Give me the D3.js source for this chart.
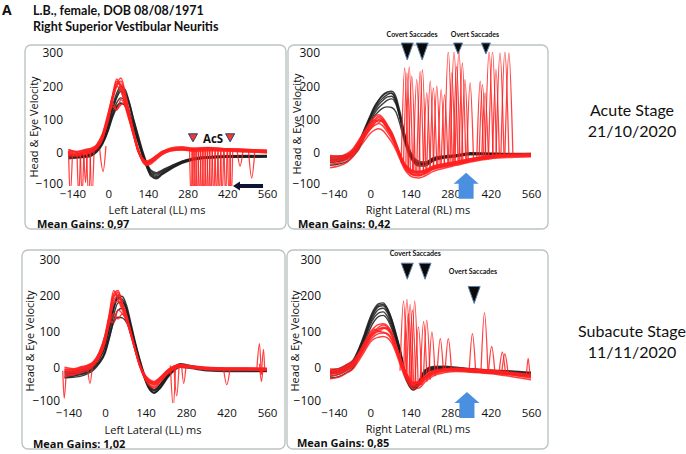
<!DOCTYPE html>
<html><head><meta charset="utf-8">
<script src="https://cdn.jsdelivr.net/npm/d3@7/dist/d3.min.js"></script>
<style>
body{margin:0;background:#fff}
svg{display:block}
text{fill:#111}
</style>
</head><body>
<svg id="chart" width="686" height="454"></svg>
<script>
// ---------- data ----------
const T = [-140,-110,-80,-60,-40,-20,0,15,30,45,60,75,90,105,120,135,150,170,190,220,260,300,350,420,490,560];
const xTicks = [-140,0,140,280,420,560];
const yTicks = [300,200,100,0,-100];

// Acute – Left Lateral
const tlHead = [
 [-10,-12,-10,-5,8,35,80,125,165,185,175,140,90,45,0,-35,-60,-68,-58,-45,-28,-18,-14,-11,-10,-10],
 [-15,-14,-12,-8,4,28,70,115,150,165,155,122,78,35,-5,-40,-66,-75,-62,-46,-30,-20,-15,-12,-12,-12],
 [-6,-8,-6,0,14,42,90,140,180,200,190,150,100,55,10,-28,-52,-60,-52,-40,-25,-16,-12,-9,-8,-8],
 [-12,-10,-8,-4,10,30,72,110,140,150,140,112,72,32,-8,-42,-70,-78,-66,-50,-32,-22,-16,-13,-12,-11],
 [-8,-10,-8,-2,12,38,85,132,170,192,182,148,98,50,5,-30,-55,-64,-55,-42,-26,-17,-12,-10,-9,-9],
 [-18,-16,-14,-10,2,25,65,105,135,148,145,118,80,40,0,-36,-62,-72,-64,-48,-30,-20,-16,-14,-14,-13]
];
const tlEye = [
 [0,-5,5,8,20,50,110,165,210,200,160,110,60,10,-20,-32,-28,-15,-2,8,10,8,10,8,5,2],
 [10,0,-5,5,15,42,100,155,200,215,170,115,62,12,-18,-28,-25,-12,0,10,12,10,12,10,8,5],
 [-5,-10,0,5,25,58,120,170,222,190,140,95,50,5,-25,-38,-34,-20,-6,5,8,5,6,5,2,0],
 [5,2,8,12,18,45,95,150,130,145,150,105,55,8,-15,-25,-20,-8,4,12,15,12,14,12,10,8],
 [-10,-8,-4,0,12,40,105,160,205,225,180,120,65,15,-22,-35,-30,-18,-5,6,10,6,8,6,4,0],
 [2,-2,6,10,22,55,112,168,200,185,150,100,52,6,-20,-30,-24,-10,2,14,18,14,16,12,10,6],
 [-3,-6,2,6,18,48,105,140,128,160,140,98,50,4,-18,-28,-22,-10,3,10,14,10,12,10,6,4],
 [8,4,10,14,24,52,115,172,215,205,165,112,58,8,-22,-34,-28,-14,0,10,14,12,14,10,8,4]
];
// [start ms, start value, peak ms, peak value, end ms, end value]
const tlSpikes = [
 [-140,5,-134,-130,-126,0],[-110,0,-104,-130,-98,-5],[-98,-5,-92,-130,-86,0],
 [-86,0,-80,-90,-74,5],[-76,0,-69,-130,-62,0],[-64,0,-57,-130,-50,5],[-30,10,-18,-56,-8,20],
 [287,5,292,-140,297,5],[295,5,300,-140,305,5],[301,5,306,-140,311,5],[309,5,314,-140,319,5],
 [317,5,322,-140,327,5],[325,5,330,-140,335,5],[333,5,338,-140,343,5],[341,5,346,-140,351,5],
 [349,5,354,-140,359,5],[357,5,362,-140,367,5],[367,5,372,-140,377,5],[377,5,382,-140,387,5],
 [387,5,392,-140,397,5],[397,5,402,-140,407,5],[409,5,414,-140,419,5],[421,5,426,-140,431,5],
 [429,5,434,-140,439,5],[455,5,465,-40,475,5],[495,5,506,-76,517,5]
];

// Acute – Right Lateral
const trHead = [
 [-20,-18,-12,2,24,65,105,132,152,165,175,180,160,110,52,8,-18,-30,-31,-18,-12,-9,-2,-3,-4,-4],
 [-30,-26,-18,-4,16,55,92,118,136,148,158,162,145,98,42,0,-24,-36,-36,-22,-14,-10,-4,-5,-6,-6],
 [-10,-10,-6,8,30,72,112,140,160,175,183,185,168,118,58,14,-12,-26,-28,-15,-9,-6,0,-1,-2,-2],
 [-38,-34,-26,-10,10,48,85,110,125,135,138,136,122,82,32,-6,-28,-40,-40,-25,-16,-12,-6,-6,-8,-8],
 [-16,-14,-10,5,28,68,108,136,158,172,180,178,155,105,46,4,-20,-32,-33,-20,-12,-8,-2,-2,-3,-3],
 [-24,-22,-15,0,20,60,100,125,145,158,168,170,150,102,45,2,-22,-34,-34,-20,-13,-10,-3,-4,-5,-5]
];
const trEye = [
 [-20,-18,-10,5,30,55,80,95,105,95,75,55,25,-10,-38,-52,-60,-62,-58,-46,-38,-32,-22,-12,-8,-6],
 [-35,-30,-20,-5,20,45,70,82,88,80,62,42,15,-18,-45,-60,-68,-70,-64,-50,-42,-35,-25,-15,-10,-8],
 [-8,-10,-2,12,38,65,92,108,114,104,84,62,30,-5,-32,-46,-54,-56,-52,-40,-32,-26,-18,-10,-6,-4],
 [-45,-40,-28,-12,12,36,58,68,72,66,50,32,8,-22,-50,-66,-74,-76,-70,-56,-46,-38,-28,-18,-14,-12],
 [-15,-14,-6,8,34,60,86,100,110,98,78,58,28,-8,-36,-50,-58,-60,-56,-44,-36,-30,-20,-11,-7,-5],
 [-25,-22,-14,0,26,50,76,90,98,90,70,50,20,-14,-42,-56,-64,-66,-62,-48,-40,-34,-24,-14,-10,-8],
 [-28,-24,-16,-2,22,48,72,88,100,92,72,48,18,-15,-44,-58,-66,-68,-60,-48,-40,-33,-23,-13,-9,-10],
 [-12,-16,-8,6,32,58,84,98,92,100,80,56,26,-8,-36,-50,-58,-58,-54,-42,-34,-28,-18,-8,-4,-2]
];
const trSaccades = [
 [108,-30,120,255,132,-45],[116,-35,128,240,140,-50],[124,-40,136,258,148,-55],[133,-45,145,230,157,-55],
 [150,-55,162,220,174,-60],[162,-60,174,245,186,-60],[170,-60,182,250,194,-55],[185,-55,197,180,209,-50],
 [197,-55,209,215,221,-50],[208,-50,220,195,232,-45],[220,-48,232,200,244,-45],[235,-45,247,190,259,-40],
 [247,-42,259,175,271,-40],[258,-40,272,305,286,-38],[272,-38,284,240,296,-36],[278,-38,292,305,306,-35],
 [289,-36,301,260,313,-34],[295,-36,309,305,323,-33],[309,-34,321,270,333,-32],[318,-33,330,220,342,-30],
 [336,-30,348,210,360,-28],[371,-25,383,215,395,-22],[379,-24,391,205,403,-20],[388,-22,400,180,412,-20],
 [400,-20,414,305,428,-18],[412,-18,426,305,440,-15],[426,-16,438,250,450,-15],[438,-15,452,300,466,-12],
 [455,-12,469,305,483,-10],[469,-12,483,300,497,-8]
];

// Subacute – Left Lateral
const blHead = [
 [-20,-18,-14,-8,2,22,55,105,160,195,190,165,115,65,20,-20,-48,-66,-52,-18,8,2,-4,-6,-7,-8],
 [-28,-25,-20,-14,-4,14,45,92,145,180,182,160,112,62,16,-24,-54,-72,-58,-24,2,-2,-8,-10,-10,-11],
 [-12,-12,-8,-2,8,30,65,118,172,200,198,172,122,70,24,-16,-44,-62,-48,-14,10,4,-2,-4,-5,-6],
 [-24,-22,-18,-12,-2,15,42,85,125,140,138,125,95,55,14,-26,-55,-70,-56,-22,4,0,-6,-8,-9,-10],
 [-16,-15,-11,-5,5,25,60,112,165,192,185,158,108,60,18,-22,-50,-64,-50,-16,6,2,-3,-5,-6,-7],
 [-30,-28,-24,-18,-8,10,38,80,130,160,165,150,105,58,12,-28,-58,-72,-60,-26,0,-4,-10,-12,-12,-12]
];
const blEye = [
 [-10,-12,-5,0,10,35,80,140,200,205,175,140,95,50,8,-20,-38,-45,-32,-8,6,2,-2,-4,-4,-5],
 [-20,-18,-10,-4,6,28,70,128,185,200,172,138,92,46,4,-26,-46,-55,-40,-14,2,-2,-6,-8,-8,-8],
 [0,-4,2,6,16,42,90,150,215,190,160,128,88,44,5,-18,-32,-40,-28,-5,8,4,0,-2,-2,-3],
 [-6,-8,-2,4,12,38,85,130,125,160,150,130,90,48,6,-22,-40,-48,-35,-10,5,2,-2,-3,-3,-4],
 [-15,-14,-8,-2,8,32,75,138,195,210,180,145,98,52,10,-18,-36,-42,-30,-6,6,2,-3,-5,-5,-6],
 [-25,-22,-14,-8,4,26,68,125,178,185,165,135,90,45,2,-28,-48,-58,-42,-16,0,-2,-6,-8,-8,-9],
 [-5,-6,0,5,14,40,88,145,205,215,178,138,94,48,6,-20,-36,-44,-32,-8,6,3,-1,-3,-3,-4],
 [-12,-10,-4,2,10,34,78,120,150,135,150,130,90,46,6,-22,-40,-50,-36,-10,4,0,-4,-5,-6,-6]
];
const blSpikes = [
 [-146,-10,-141,-87,-134,-10],[-60,-5,-52,-45,-44,0],[226,5,236,-110,244,5],[238,5,248,-80,256,5],
 [265,5,272,-45,280,5],[410,-5,421,-49,432,-5],[525,-5,534,66,540,-20],[534,10,541,-40,546,0],
 [541,-20,548,50,552,-10]
];

// Subacute – Right Lateral
const brHead = [
 [-15,-10,2,14,45,85,130,155,170,172,158,128,88,42,-14,-42,-56,-42,-12,-2,0,-2,-6,-10,-14,-18],
 [-25,-20,-8,4,35,75,118,140,152,155,142,115,78,34,-20,-48,-62,-48,-18,-6,-4,-6,-10,-14,-18,-22],
 [-8,-4,8,20,52,94,140,165,178,180,165,135,94,48,-8,-38,-52,-38,-8,2,3,0,-4,-8,-10,-14],
 [-30,-26,-14,-2,28,66,108,130,142,145,134,108,72,28,-24,-52,-64,-50,-20,-8,-6,-8,-12,-16,-20,-24],
 [-18,-14,-2,10,40,80,124,148,162,165,152,122,84,38,-16,-44,-58,-44,-14,-4,-2,-4,-8,-12,-16,-20],
 [-12,-8,4,16,48,88,135,160,174,176,162,132,90,45,-10,-40,-54,-40,-10,0,1,-1,-5,-9,-12,-16]
];
const brEye = [
 [-15,-12,0,10,32,60,88,100,108,110,105,88,55,20,-12,-35,-48,-45,-30,-15,-8,-6,-8,-12,-18,-25],
 [-25,-20,-8,2,24,50,76,88,94,96,92,76,46,12,-20,-42,-55,-52,-36,-20,-12,-10,-12,-16,-22,-30],
 [-5,-4,8,18,40,70,98,112,120,122,116,98,62,26,-6,-30,-42,-40,-25,-10,-4,-2,-4,-8,-14,-20],
 [-32,-28,-15,-5,18,44,70,80,84,86,82,68,40,6,-26,-48,-60,-58,-42,-24,-15,-12,-14,-18,-26,-35],
 [-18,-15,-4,6,28,56,84,96,104,112,108,90,58,22,-10,-34,-46,-42,-28,-14,-6,-4,-6,-10,-16,-22],
 [-10,-8,4,14,36,64,92,106,100,108,110,92,60,24,-8,-32,-44,-42,-28,-12,-6,-4,-7,-11,-17,-24],
 [-20,-16,-5,6,28,55,82,94,100,98,94,80,50,16,-16,-38,-52,-50,-34,-18,-10,-8,-10,-14,-20,-28],
 [-12,-10,2,12,34,62,90,102,112,118,112,94,60,24,-8,-32,-46,-44,-29,-14,-7,-5,-7,-11,-17,-23]
];
const brSaccades = [
 [104,-10,116,185,128,-30],[116,-20,128,190,140,-38],[120,-25,133,150,146,-42],[127,-30,139,175,151,-45],
 [135,-35,147,160,159,-48],[143,-40,155,185,167,-50],[156,-45,168,113,180,-50],[174,-45,186,128,198,-40],
 [185,-40,197,132,209,-35],[204,-30,215,99,226,-25],[233,-15,244,80,255,-12],[261,-10,272,80,283,-8],
 [345,-8,356,94,367,-8],[386,-10,398,153,410,-10],[412,-12,423,58,434,-12],[449,-15,460,42,471,-15],
 [458,-15,469,37,480,-16],[544,-25,550,25,556,-20]
];

const titleLines = ["L.B., female, DOB 08/08/1971","Right Superior Vestibular Neuritis"];
const stageLabels = [["Acute Stage","21/10/2020"],["Subacute Stage","11/11/2020"]];
const xLabels = ["Left Lateral (LL) ms","Right Lateral (RL) ms","Left Lateral (LL) ms","Right Lateral (RL) ms"];
const gains = ["0,97","0,42","1,02","0,85"];
const yLabel = "Head & Eye Velocity";

// annotations (in data units of each panel)
const tlAcsMarks = [[299,45],[430,45]];
const tlAcsText = [370,42];
const tlArrow = [440,546,-100];
const trCovert = [[129,330],[181,330]];
const trOvert = [[306,330],[403,330]];
const trTexts = [["Covert Saccades",146,348],["Overt Saccades",365,348]];
const trBlueArrow = [334,-60];
const brCovert = [[129,291],[191,291]];
const brOvert = [[362,226]];
const brTexts = [["Covert Saccades",157,311],["Overt Saccades",358,260]];
const brBlueArrow = [337,-69];

// ---------- layout ----------
const svg = d3.select("#chart");
const RED = "#ff2020", BLACK = "#1c1c1c", BLUE = "#4a8fe0";
const SANS = "'Open Sans','Noto Sans',sans-serif";
const CAL = "Lato,'Noto Sans',sans-serif";

const panels = [
 {box:[25,45,261,184], px:[68.5,267], py:[186,53], yAxisX:63, yTitle:[34,127], xTitle:[157,214], gain:[37,227.5], pad:4,
  head:tlHead, eye:tlEye, extra:tlSpikes, xl:xLabels[0], g:gains[0]},
 {box:[288,45,260,184], px:[330,531], py:[186,53], yAxisX:320, yTitle:[297,124], xTitle:[418,214], gain:[298,227.5], pad:4,
  head:trHead, eye:trEye, extra:trSaccades, xl:xLabels[1], g:gains[1]},
 {box:[22,250,263,199], px:[64.5,267], py:[403,260], yAxisX:60, yTitle:[30,341], xTitle:[153,434], gain:[33,448], pad:6,
  head:blHead, eye:blEye, extra:blSpikes, xl:xLabels[2], g:gains[2]},
 {box:[287,250,261,199], px:[330,531], py:[403,260], yAxisX:321, yTitle:[295,341], xTitle:[418,433], gain:[297,447], pad:6,
  head:brHead, eye:brEye, extra:brSaccades, xl:xLabels[3], g:gains[3]}
];

// title
svg.append("text").attr("x",2).attr("y",15).style("font-family",SANS).style("font-size","14px").style("font-weight","bold").text("A");
titleLines.forEach((t,i)=>svg.append("text").attr("x",33).attr("y",15+i*15.5)
  .style("font-size","12.5px").style("font-weight","bold").style("font-family",CAL).text(t));

// stage labels
stageLabels.forEach((lab,i)=>{
  const y0 = i===0 ? 116 : 337;
  lab.forEach((t,j)=>svg.append("text").attr("x",632).attr("y",y0+j*21).attr("text-anchor","middle")
    .style("font-size","16px").style("font-family",CAL).text(t));
});

const defs = svg.append("defs");

panels.forEach((p,i)=>{
  const [bx,by,bw,bh] = p.box;
  svg.append("rect").attr("x",bx).attr("y",by).attr("width",bw).attr("height",bh)
    .attr("rx",6).attr("fill","none").attr("stroke","#bcc4c4").attr("stroke-width",1.4);

  const x = d3.scaleLinear().domain([-140,560]).range(p.px);
  const y = d3.scaleLinear().domain([-100,300]).range(p.py);

  defs.append("clipPath").attr("id","clip"+i).append("rect")
    .attr("x",p.px[0]-4).attr("y",y(300)-1).attr("width",p.px[1]-p.px[0]+16).attr("height",y(-100)-y(300)+1);

  // axes
  const xa = svg.append("g").attr("transform",`translate(0,${y(-100)})`)
    .call(d3.axisBottom(x).tickValues(xTicks).tickSize(0).tickPadding(p.pad).tickFormat(d3.format("d")));
  xa.select(".domain").remove();
  xa.selectAll("text").style("font-size","11.5px").style("fill","#111").style("font-family",SANS)
    .attr("dx",d=>d<0?4:0);
  const ya = svg.append("g").attr("transform",`translate(${p.yAxisX},0)`)
    .call(d3.axisLeft(y).tickValues(yTicks).tickSize(0).tickPadding(0).tickFormat(d3.format("d")));
  ya.select(".domain").remove();
  ya.selectAll("text").style("font-size","12px").style("fill","#111").style("font-family",SANS)
    .attr("dy",d=>d<0?"0.1em":"0.32em");

  svg.append("text").attr("transform",`translate(${p.yTitle[0]},${p.yTitle[1]}) rotate(-90)`)
    .attr("text-anchor","middle").attr("dy","0.35em").style("font-size","11px").style("font-family",SANS).text(yLabel);
  svg.append("text").attr("x",p.xTitle[0]).attr("y",p.xTitle[1]).attr("text-anchor","middle")
    .style("font-size","11px").style("font-family",SANS).text(p.xl);
  svg.append("text").attr("x",p.gain[0]).attr("y",p.gain[1]).style("font-size","11px").style("font-family",SANS)
    .style("font-weight","bold").text("Mean Gains: "+p.g);

  const g = svg.append("g").attr("clip-path",`url(#clip${i})`);
  const line = d3.line().x(d=>x(d[0])).y(d=>y(d[1])).curve(d3.curveMonotoneX);

  g.selectAll(".h").data(p.head).join("path")
    .attr("d",vals=>line(T.map((t,k)=>[t,vals[k]])))
    .attr("fill","none").attr("stroke",BLACK).attr("stroke-width",1.4).attr("stroke-opacity",0.85);
  g.selectAll(".e").data(p.eye).join("path")
    .attr("d",vals=>line(T.map((t,k)=>[t,vals[k]])))
    .attr("fill","none").attr("stroke",RED).attr("stroke-width",1.5).attr("stroke-opacity",0.85);
  g.selectAll(".s").data(p.extra).join("path")
    .attr("d",s=>line([[s[0],s[1]],[s[2],s[3]],[s[4],s[5]]]))
    .attr("fill","none").attr("stroke",RED).attr("stroke-width",1.3).attr("stroke-opacity",0.85);

  p.x = x; p.y = y;
});

// ---------- annotations ----------
function downTri(px,py,w,h,fill,stroke){
  svg.append("path").attr("d",`M${px-w/2},${py}L${px+w/2},${py}L${px},${py+h}Z`)
    .attr("fill",fill).attr("stroke",stroke).attr("stroke-width",1);
}
function upArrow(px,py){
  const hw=12.5, sw=7.5, hh=11, len=26;
  svg.append("path").attr("d",`M${px},${py}L${px+hw},${py+hh}L${px+sw},${py+hh}L${px+sw},${py+len}L${px-sw},${py+len}L${px-sw},${py+hh}L${px-hw},${py+hh}Z`)
    .attr("fill",BLUE);
}
{
  const p = panels[0];
  tlAcsMarks.forEach(m=>downTri(p.x(m[0]),p.y(m[1])-4,9,8,"#f03a2a","#2a3f7a"));
  svg.append("text").attr("x",p.x(tlAcsText[0])).attr("y",p.y(tlAcsText[1])+4).attr("text-anchor","middle")
    .style("font-size","11.5px").style("font-family",SANS).style("font-weight","bold").text("AcS");
  const x1=p.x(tlArrow[0]), x2=p.x(tlArrow[1]), yy=p.y(tlArrow[2]);
  svg.append("path").attr("d",`M${x1},${yy}L${x1+7},${yy-4.5}L${x1+7},${yy-2}L${x2},${yy-2}L${x2},${yy+2}L${x1+7},${yy+2}L${x1+7},${yy+4.5}Z`)
    .attr("fill","#0d1530");
}
{
  const p = panels[1];
  trCovert.forEach(m=>downTri(p.x(m[0]),p.y(m[1]),12,17,"#0a0a0a","#5a7fa8"));
  trOvert.forEach(m=>downTri(p.x(m[0]),p.y(m[1]),9,11,"#0a0a0a","#5a7fa8"));
  trTexts.forEach(t=>svg.append("text").attr("x",p.x(t[1])).attr("y",p.y(t[2])).attr("text-anchor","middle")
    .style("font-size","7px").style("font-family",CAL).style("font-weight","bold").text(t[0]));
  upArrow(p.x(trBlueArrow[0]),p.y(trBlueArrow[1]));
}
{
  const p = panels[3];
  brCovert.forEach(m=>downTri(p.x(m[0]),p.y(m[1]),12,16,"#0a0a0a","#5a7fa8"));
  brOvert.forEach(m=>downTri(p.x(m[0]),p.y(m[1]),12,17,"#0a0a0a","#5a7fa8"));
  brTexts.forEach(t=>svg.append("text").attr("x",p.x(t[1])).attr("y",p.y(t[2])).attr("text-anchor","middle")
    .style("font-size","7px").style("font-family",CAL).style("font-weight","bold").text(t[0]));
  upArrow(p.x(brBlueArrow[0]),p.y(brBlueArrow[1]));
}
</script>
</body></html>
